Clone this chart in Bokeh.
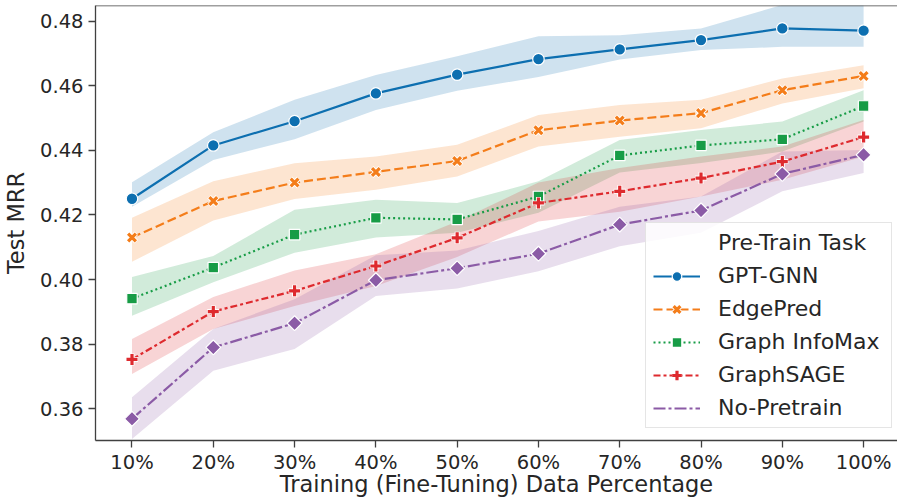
from bokeh.plotting import figure
from bokeh.models import (ColumnDataSource, Range1d, FixedTicker, Legend, LegendItem,
                          Span, NumeralTickFormatter)
from bokeh.embed import file_html
from bokeh.resources import INLINE

# ---- data ----
pct = [10, 20, 30, 40, 50, 60, 70, 80, 90, 100]
x_tick_labels = ["10%", "20%", "30%", "40%", "50%", "60%", "70%", "80%", "90%", "100%"]
y_ticks = [0.36, 0.38, 0.40, 0.42, 0.44, 0.46, 0.48]

gpt_gnn = [0.4250, 0.4415, 0.4490, 0.4576, 0.4634, 0.4682, 0.4712, 0.4741, 0.4777, 0.4770]
gpt_gnn_lo = [0.4225, 0.4370, 0.4434, 0.4525, 0.4584, 0.4627, 0.4681, 0.4710, 0.4720, 0.4720]
gpt_gnn_hi = [0.4301, 0.4456, 0.4556, 0.4633, 0.4691, 0.4753, 0.4756, 0.4777, 0.4850, 0.4850]

edgepred = [0.4130, 0.4243, 0.4300, 0.4333, 0.4367, 0.4462, 0.4492, 0.4515, 0.4586, 0.4630]
edgepred_lo = [0.4055, 0.4183, 0.4249, 0.4278, 0.4319, 0.4412, 0.4442, 0.4468, 0.4545, 0.4592]
edgepred_hi = [0.4191, 0.4304, 0.4360, 0.4381, 0.4417, 0.4509, 0.4540, 0.4556, 0.4622, 0.4663]

infomax = [0.3941, 0.4037, 0.4139, 0.4191, 0.4186, 0.4257, 0.4384, 0.4415, 0.4434, 0.4537]
infomax_lo = [0.3888, 0.3992, 0.4083, 0.4130, 0.4145, 0.4207, 0.4331, 0.4361, 0.4396, 0.4489]
infomax_hi = [0.4008, 0.4073, 0.4216, 0.4247, 0.4237, 0.4304, 0.4432, 0.4463, 0.4489, 0.4586]

graphsage = [0.3753, 0.3901, 0.3965, 0.4042, 0.4129, 0.4237, 0.4273, 0.4314, 0.4365, 0.4441]
graphsage_lo = [0.3708, 0.3847, 0.3918, 0.3980, 0.4070, 0.4180, 0.4210, 0.4257, 0.4309, 0.4381]
graphsage_hi = [0.3816, 0.3946, 0.4028, 0.4078, 0.4180, 0.4300, 0.4345, 0.4381, 0.4412, 0.4494]

nopretrain = [0.3569, 0.3790, 0.3865, 0.3998, 0.4035, 0.4080, 0.4170, 0.4214, 0.4327, 0.4386]
nopretrain_lo = [0.3507, 0.3718, 0.3785, 0.3949, 0.3972, 0.4026, 0.4103, 0.4145, 0.4273, 0.4330]
nopretrain_hi = [0.3636, 0.3847, 0.3939, 0.4075, 0.4090, 0.4150, 0.4225, 0.4257, 0.4396, 0.4401]

names = ["GPT-GNN", "EdgePred", "Graph InfoMax", "GraphSAGE", "No-Pretrain"]
colors = ["#0d6fb0", "#f47d1a", "#179c46", "#de2a2e", "#8b5ba6"]
dashes = ["solid", "9 4", "2 3", "7 3 3 3", "12 3 3 3"]
markers = ["circle", "x", "square", "cross", "diamond"]
series = [(gpt_gnn, gpt_gnn_lo, gpt_gnn_hi), (edgepred, edgepred_lo, edgepred_hi),
          (infomax, infomax_lo, infomax_hi), (graphsage, graphsage_lo, graphsage_hi),
          (nopretrain, nopretrain_lo, nopretrain_hi)]

FONT = "DejaVu Sans"
TXT = "#262626"
SPINE = "#404040"

X0, X1 = 5.51, 104.17
Y0, Y1 = 0.3502, 0.4848

p = figure(width=897, height=499, output_backend="svg", toolbar_location=None,
           x_range=Range1d(X0, X1), y_range=Range1d(Y0, Y1),
           min_border_left=92, min_border_right=0, min_border_top=5, min_border_bottom=0)
p.outline_line_color = None
p.grid.visible = False
p.background_fill_color = "white"
p.border_fill_color = "white"

for ax in (p.xaxis[0], p.yaxis[0]):
    ax.axis_line_color = SPINE
    ax.axis_line_width = 1.3
    ax.major_tick_line_color = SPINE
    ax.major_tick_line_width = 1.3
    ax.major_tick_out = 7
    ax.major_tick_in = 0
    ax.minor_tick_line_color = None
    ax.major_label_text_font = FONT
    ax.major_label_text_font_size = "19.5px"
    ax.major_label_text_color = TXT
    ax.axis_label_text_font = FONT
    ax.axis_label_text_font_size = "22.5px"
    ax.axis_label_text_font_style = "normal"
    ax.axis_label_text_color = TXT

p.xaxis.ticker = FixedTicker(ticks=pct)
p.xaxis.major_label_overrides = {v: l for v, l in zip(pct, x_tick_labels)}
p.xaxis.major_label_standoff = 3
p.xaxis.axis_label = "Training (Fine-Tuning) Data Percentage"
p.xaxis.axis_label_standoff = -6
p.yaxis.ticker = FixedTicker(ticks=y_ticks)
p.yaxis.formatter = NumeralTickFormatter(format="0.00")
p.yaxis.axis_label = "Test MRR"
p.yaxis.major_label_standoff = 5
p.yaxis.axis_label_standoff = 8

# top spine
p.add_layout(Span(location=Y1, dimension="width", line_color=SPINE, line_width=1.3))

# confidence bands
for (m, lo, hi), c in zip(series, colors):
    src = ColumnDataSource(dict(x=pct, lo=lo, hi=hi))
    p.varea(x="x", y1="lo", y2="hi", source=src, fill_color=c, fill_alpha=0.2)

items = []
title_r = p.line(x=[], y=[], line_alpha=0)
items.append(LegendItem(label="Pre-Train Task", renderers=[title_r]))

for (m, lo, hi), c, d, mk, nm in zip(series, colors, dashes, markers, names):
    src = ColumnDataSource(dict(x=pct, y=m))
    ln = p.line(x="x", y="y", source=src, line_color=c, line_width=2.2, line_dash=d)
    rs = [ln]
    if mk in ("x", "cross"):
        r1 = p.scatter(x="x", y="y", source=src, marker=mk, size=12, line_color="white", line_width=5)
        r2 = p.scatter(x="x", y="y", source=src, marker=mk, size=11, line_color=c, line_width=3.2)
        rs += [r1, r2]
    elif mk == "diamond":
        p.scatter(x="x", y="y", source=src, marker="square", angle=0.785398, size=10.5,
                  fill_color=c, line_color="white", line_width=1.2)
        # legend-only glyph (no data) so the legend shows an upright diamond
        lg = p.scatter(x=[], y=[], marker="diamond", size=18, fill_color=c,
                       line_color="white", line_width=1.2)
        rs.append(lg)
    else:
        sz = {"circle": 11.5, "square": 10.5}[mk]
        r = p.scatter(x="x", y="y", source=src, marker=mk, size=sz, fill_color=c,
                      line_color="white", line_width=1.2)
        rs.append(r)
    items.append(LegendItem(label=nm, renderers=rs))

legend = Legend(items=items, location=(550, 12), orientation="vertical")
legend.label_text_font = FONT
legend.label_text_font_size = "22px"
legend.label_text_color = TXT
legend.glyph_width = 47
legend.glyph_height = 24
legend.label_height = 24
legend.label_width = 166
legend.label_standoff = 18
legend.spacing = 8
legend.padding = 7
legend.margin = 0
legend.border_line_color = "#cccccc"
legend.border_line_width = 1.2
legend.background_fill_color = "white"
legend.background_fill_alpha = 0.85
p.add_layout(legend)

open("out.html", "w").write(file_html(p, INLINE))
